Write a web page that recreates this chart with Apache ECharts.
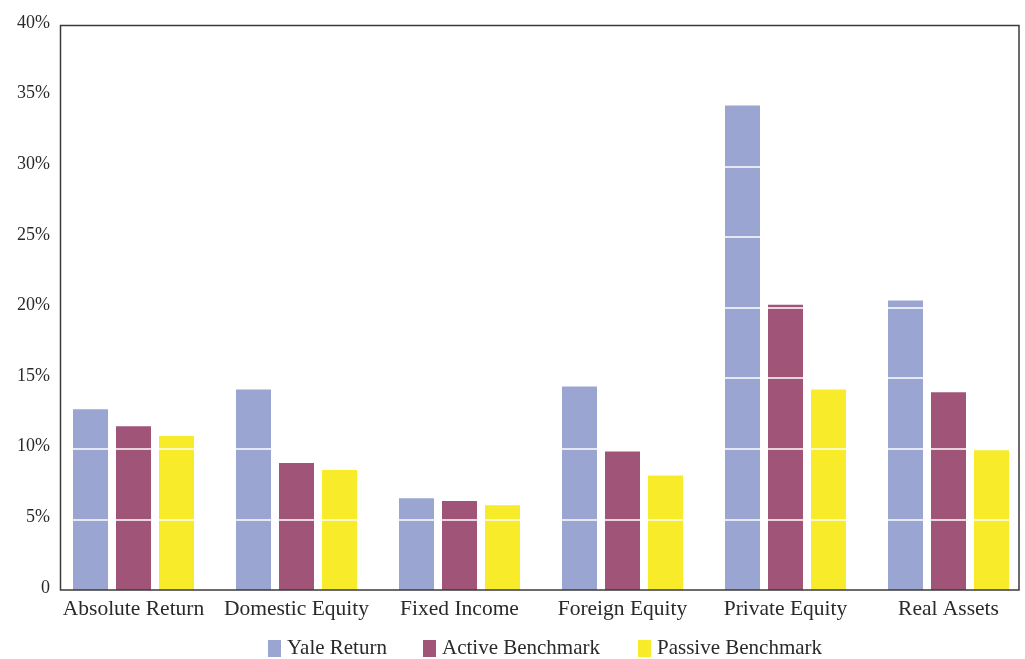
<!DOCTYPE html>
<html>
<head>
<meta charset="utf-8">
<script src="https://cdn.jsdelivr.net/npm/echarts@6/dist/echarts.min.js"></script>
<style>html,body{margin:0;padding:0;background:#fff;overflow:hidden;}#c{width:1040px;height:659px;}</style>
</head>
<body>
<div id="c"></div>
<script>
const categories = ['Absolute Return', 'Domestic Equity', 'Fixed Income', 'Foreign Equity', 'Private Equity', 'Real Assets'];
const yaleReturn = [12.8, 14.2, 6.5, 14.4, 34.3, 20.5];
const activeBenchmark = [11.6, 9.0, 6.3, 9.8, 20.2, 14.0];
const passiveBenchmark = [10.9, 8.5, 6.0, 8.1, 14.2, 9.9];
const gridValues = [5, 10, 15, 20, 25, 30, 35];

const FONT = '"Liberation Serif", "DejaVu Serif", serif';
const chart = echarts.init(document.getElementById('c'));
const legendBase = {
  orient: 'horizontal', top: 638, padding: 0, itemWidth: 13, itemHeight: 17, icon: 'rect',
  textStyle: { fontFamily: FONT, fontSize: 21, color: '#2a2a2a', padding: [0, 0, 0, 1] },
  selectedMode: false
};
chart.setOption({
  animation: false,
  backgroundColor: '#fff',
  grid: { left: 52, width: 978, top: 25, height: 565, containLabel: false },
  legend: [
    Object.assign({ left: 268, data: ['Yale Return'] }, legendBase),
    Object.assign({ left: 423, data: ['Active Benchmark'] }, legendBase),
    Object.assign({ left: 638, data: ['Passive Benchmark'] }, legendBase)
  ],
  xAxis: {
    type: 'category', data: categories,
    axisLine: { show: false }, axisTick: { show: false },
    axisLabel: { fontFamily: FONT, fontSize: 21.5, color: '#2a2a2a', margin: 8, interval: 0 }
  },
  yAxis: {
    type: 'value', min: 0, max: 40, interval: 5,
    axisLine: { show: false }, axisTick: { show: false }, splitLine: { show: false },
    axisLabel: {
      fontFamily: FONT, fontSize: 18, color: '#2a2a2a', margin: 2,
      verticalAlign: 'bottom', lineHeight: 4,
      formatter: v => v === 0 ? '0' : v + '%'
    }
  },
  graphic: [{
    type: 'rect', z: 100, silent: true,
    shape: { x: 60.5, y: 25.5, width: 958.5, height: 564.5 },
    style: { fill: null, stroke: '#3a3a3a', lineWidth: 1.5 }
  }],
  series: [
    { name: 'Yale Return', type: 'bar', data: yaleReturn, barWidth: 35, barGap: '22.86%', itemStyle: { color: '#9aa5d2' } },
    { name: 'Active Benchmark', type: 'bar', data: activeBenchmark, barWidth: 35, barGap: '22.86%', itemStyle: { color: '#a05478' } },
    { name: 'Passive Benchmark', type: 'bar', data: passiveBenchmark, barWidth: 35, barGap: '22.86%', itemStyle: { color: '#f8eb2a' },
      markLine: {
        silent: true, symbol: ['none', 'none'], label: { show: false }, z: 50,
        lineStyle: { color: '#ffffff', width: 1.5, type: 'solid' },
        emphasis: { disabled: true },
        data: gridValues.map(v => ({ yAxis: v }))
      }
    }
  ]
});
</script>
</body>
</html>
